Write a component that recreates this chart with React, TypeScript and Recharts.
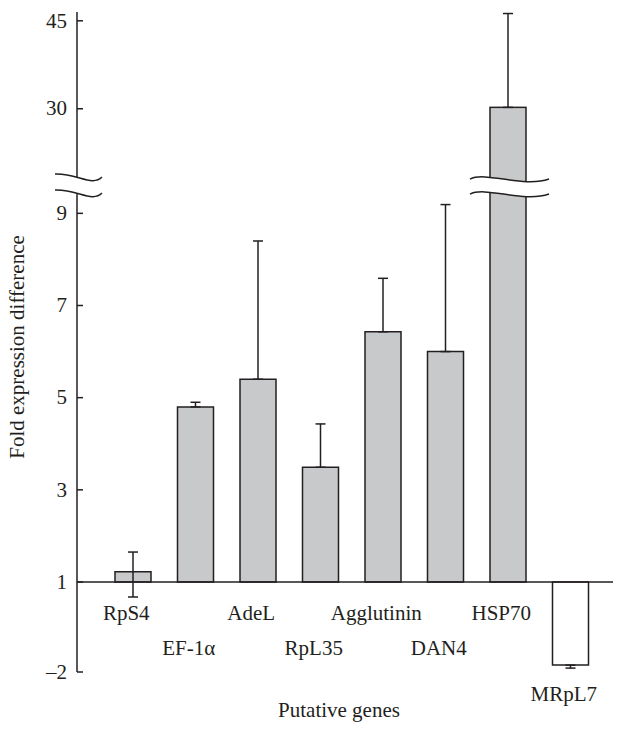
import { Bar, BarChart, ErrorBar, Rectangle, ReferenceLine, XAxis, YAxis } from 'recharts'

const genes = ['RpS4', 'EF-1α', 'AdeL', 'RpL35', 'Agglutinin', 'DAN4', 'HSP70', 'MRpL7']
const fold = [1.22, 4.8, 5.4, 3.49, 6.43, 6.0, 30.24, -1.77]
const errUp = [0.43, 0.1, 3.0, 0.94, 1.16, 3.19, 16.0, 0]
const errDown = [0.72, 0, 0, 0, 0, 0, 0, 0.1]

const tickValues = [-2, 1, 3, 5, 7, 9, 30, 45]
const tickLabels = ['–2', '1', '3', '5', '7', '9', '30', '45']

// broken axis: fold value -> plotted position (baseline 1 sits at 0)
const scaleFold = [-2, 1, 9.44, 18.4, 30, 45]
const scalePos = [-1.953, 0, 8.44, 8.787, 10.269, 12.178]
const gapLo = 8.44
const gapHi = 8.787

const INK = '#231f20'
const BAR_FILL = '#c8c9cb'
const FONT = '"Liberation Serif", "Times New Roman", serif'
const FS = 21

function toPos(v: number) {
  let i = 0
  while (i < scaleFold.length - 2 && v > scaleFold[i + 1]) i++
  const t = (v - scaleFold[i]) / (scaleFold[i + 1] - scaleFold[i])
  return scalePos[i] + t * (scalePos[i + 1] - scalePos[i])
}

const tickPos = tickValues.map(toPos)
const breakPos = (gapLo + gapHi) / 2
const yTicks = [...tickPos, breakPos]

const data = genes.map((gene, i) => {
  const pos = toPos(fold[i])
  return {
    gene,
    pos,
    err: [pos - toPos(fold[i] - errDown[i]), toPos(fold[i] + errUp[i]) - pos],
  }
})

function FoldTick(props: any) {
  const { x, y, payload } = props
  const ax = x + 10
  const i = tickPos.findIndex((p) => Math.abs(p - payload.value) < 1e-6)
  if (i < 0) {
    const up = `M${ax - 22},${y - 11} C${ax},${y - 12} ${ax + 15},${y + 2} ${ax + 25},${y - 8}`
    const lo = `M${ax - 22},${y + 5} C${ax},${y + 4} ${ax + 15},${y + 18} ${ax + 25},${y + 8}`
    return (
      <g>
        <rect x={ax - 3} y={y - 8} width={6} height={17} fill="#fff" />
        <path d={up} fill="none" stroke={INK} strokeWidth={1.5} />
        <path d={lo} fill="none" stroke={INK} strokeWidth={1.5} />
      </g>
    )
  }
  return (
    <g>
      <line x1={ax} x2={ax + 6} y1={y} y2={y} stroke={INK} strokeWidth={1.5} />
      <text x={x} y={y} dy="0.32em" textAnchor="end" fill={INK} fontSize={FS} fontFamily={FONT}>
        {tickLabels[i]}
      </text>
    </g>
  )
}

const rowOffset = [-52, -17, 29]

function GeneTick(props: any) {
  const { x, y, payload, index } = props
  const row = fold[index] < 0 ? 2 : index % 2
  return (
    <text x={x - 7} y={y + rowOffset[row]} textAnchor="middle" fill={INK} fontSize={FS} fontFamily={FONT}>
      {payload.value}
    </text>
  )
}

function BrokenBar(props: any) {
  const { x, y, width, height, payload } = props
  const fill = payload.pos < 0 ? '#ffffff' : BAR_FILL
  if (payload.pos <= gapHi) {
    return <Rectangle x={x} y={y} width={width} height={height} fill={fill} stroke={INK} strokeWidth={1.5} />
  }
  const base = y + height
  const unit = height / payload.pos
  const m = base - ((gapLo + gapHi) / 2) * unit
  const cx = x + width / 2
  const wave = (s: number) =>
    `M${cx - 38},${m - 6 + s} C${cx - 22},${m - 14 + s} ${cx + 15},${m + 3 + s} ${cx + 41},${m - 6 + s}`
  const band =
    wave(0) +
    ` L${cx + 41},${m + 9} C${cx + 15},${m + 18} ${cx - 22},${m + 1} ${cx - 38},${m + 9} Z`
  return (
    <g>
      <rect x={x} y={y} width={width} height={height} fill={fill} stroke={INK} strokeWidth={1.5} />
      <path d={band} fill="#fff" />
      <path d={wave(0)} fill="none" stroke={INK} strokeWidth={1.5} />
      <path d={wave(15)} fill="none" stroke={INK} strokeWidth={1.5} />
    </g>
  )
}

export default function App() {
  return (
    <div style={{ position: 'absolute', left: 0, top: 0 }}>
      <BarChart width={624} height={733} data={data} margin={{ top: 12, right: 11, bottom: 0, left: 0 }}>
        <XAxis
          dataKey="gene"
          height={61}
          axisLine={false}
          tickLine={false}
          tickSize={0}
          tickMargin={0}
          interval={0}
          padding={{ left: 25, right: 11 }}
          tick={GeneTick}
          label={{
            value: 'Putative genes',
            position: 'insideBottom',
            offset: 16,
            dx: -6,
            fill: INK,
            fontSize: FS,
            fontFamily: FONT,
          }}
        />
        <YAxis
          type="number"
          width={77}
          domain={[toPos(-2), toPos(46.5)]}
          allowDataOverflow
          ticks={yTicks}
          interval={0}
          tickLine={false}
          tickSize={0}
          tickMargin={10}
          tick={FoldTick}
          axisLine={{ stroke: INK, strokeWidth: 1.5 }}
          label={{
            value: 'Fold expression difference',
            angle: -90,
            position: 'insideLeft',
            offset: 17,
            dy: 5,
            style: { textAnchor: 'middle' },
            fill: INK,
            fontSize: FS,
            fontFamily: FONT,
          }}
        />
        <Bar dataKey="pos" barSize={36} fill={BAR_FILL} stroke={INK} strokeWidth={1.5} shape={BrokenBar} isAnimationActive={false}>
          <ErrorBar dataKey="err" direction="y" width={5} stroke={INK} strokeWidth={1.5} />
        </Bar>
        <ReferenceLine y={0} stroke={INK} strokeWidth={1.5} />
      </BarChart>
    </div>
  )
}
